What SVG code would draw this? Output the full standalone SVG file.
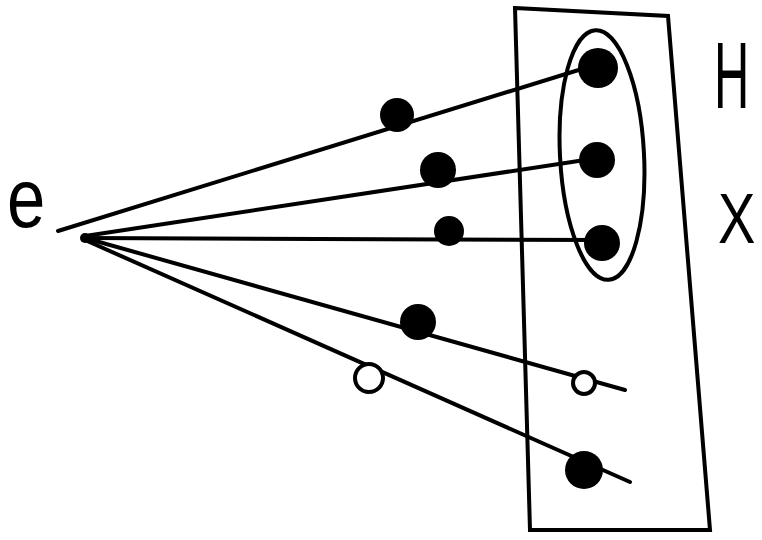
<svg xmlns="http://www.w3.org/2000/svg" width="762" height="540" viewBox="0 0 762 540">
<style>
.ln{stroke:#000;stroke-width:4;fill:none;stroke-linecap:round}
.dot{fill:#000}
.open{fill:#fff;stroke:#000;stroke-width:4}
.lbl{font-family:"Liberation Sans",sans-serif;fill:#000}
</style>
<rect width="762" height="540" fill="#fff"/>
<g id="frame">
<path class="ln" d="M515,8 L668,16 L710,530 L530,530 Z"/>
</g>
<g id="group-ellipse">
<ellipse class="ln" cx="602" cy="155" rx="42" ry="125" transform="rotate(-3 602 155)"/>
</g>
<g id="connectors">
<line class="ln" x1="58" y1="231" x2="598" y2="64"/>
<line class="ln" x1="85" y1="236" x2="598" y2="158"/>
<line class="ln" x1="85" y1="238" x2="603" y2="240"/>
<line class="ln" x1="85" y1="238" x2="625" y2="390"/>
<line class="ln" x1="85" y1="240" x2="630" y2="482"/>
</g>
<g id="origin"><circle class="dot" cx="85" cy="238" r="5"/></g>
<g id="h1"><circle class="dot" cx="598" cy="68" r="20"/></g>
<g id="h2"><circle class="dot" cx="597" cy="160" r="18"/></g>
<g id="h3"><circle class="dot" cx="602" cy="243" r="18"/></g>
<g id="m1"><circle class="dot" cx="397" cy="115" r="17"/></g>
<g id="m2"><circle class="dot" cx="438" cy="170" r="18"/></g>
<g id="m3"><circle class="dot" cx="449" cy="231" r="15"/></g>
<g id="m4"><circle class="dot" cx="418" cy="322" r="18"/></g>
<g id="m5"><circle class="open" cx="369" cy="378" r="14"/></g>
<g id="r4"><circle class="open" cx="584" cy="383" r="11"/></g>
<g id="r5"><circle class="dot" cx="584" cy="470" r="19"/></g>
<g id="labels">
<text class="lbl" font-size="84" transform="translate(7 227) scale(0.82 1)">e</text>
<text class="lbl" font-size="94" transform="translate(714 108) scale(0.52 1)">H</text>
<text class="lbl" font-size="70" transform="translate(718 243) scale(0.8 1)">X</text>
</g>
</svg>
